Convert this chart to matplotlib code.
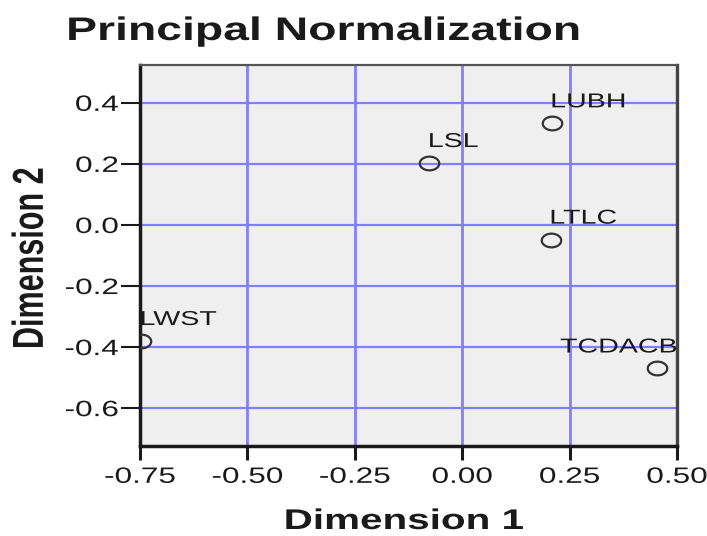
import matplotlib
matplotlib.use("Agg")
import matplotlib.pyplot as plt
from matplotlib.path import Path
from matplotlib.markers import MarkerStyle
from matplotlib.patheffects import AbstractPathEffect
from matplotlib.transforms import Affine2D, offset_copy, blended_transform_factory
import numpy as np

# ---- data -------------------------------------------------------------
labels = ["LUBH", "LSL", "LTLC", "LWST", "TCDACB"]
dim1 = [0.208, -0.077, 0.206, -0.748, 0.453]
dim2 = [0.333, 0.203, -0.048, -0.380, -0.470]

x_ticks = [-0.75, -0.50, -0.25, 0.00, 0.25, 0.50]
x_tick_labels = ["-0.75", "-0.50", "-0.25", "0.00", "0.25", "0.50"]
y_ticks = [0.4, 0.2, 0.0, -0.2, -0.4, -0.6]
y_tick_labels = ["0.4", "0.2", "0.0", "-0.2", "-0.4", "-0.6"]

title = "Principal Normalization"
x_title = "Dimension 1"
y_title = "Dimension 2"

# labels that would run past the right frame are pinned to it
pinned_right = {"TCDACB"}

# ---- style ------------------------------------------------------------
SX = 1.42            # horizontal widening of all glyphs and markers
FONT = "Liberation Sans"
INK = "#1a1a1a"
GRID = "#8080ff"
FACE = "#efefef"


class HStretch(AbstractPathEffect):
    """Widen a text path horizontally about its left/centre/right ink edge."""

    def __init__(self, sx, pivot="center"):
        super().__init__()
        self.sx = sx
        self.pivot = pivot

    def draw_path(self, renderer, gc, tpath, affine, rgbFace=None):
        ext = tpath.get_extents(affine)
        if self.pivot == "left":
            px = ext.x0
        elif self.pivot == "right":
            px = ext.x1
        else:
            px = 0.5 * (ext.x0 + ext.x1)
        widen = Affine2D().translate(-px, 0).scale(self.sx, 1).translate(px, 0)
        renderer.draw_path(gc, tpath, affine + widen, rgbFace)


plt.rcParams["font.family"] = [FONT, "DejaVu Sans"]

fig = plt.figure(figsize=(7.07, 5.36), dpi=100)
ax = fig.add_axes([140 / 707, 90 / 536, 537 / 707, 381 / 536])
ax.set_facecolor(FACE)

# elliptical hollow marker (widened circle)
t = np.linspace(0, 2 * np.pi, 73)
ellipse = Path(np.column_stack([SX * np.cos(t), np.sin(t)]), closed=True)
ax.plot(dim1, dim2, linestyle="none", marker=MarkerStyle(ellipse),
        markersize=14, markerfacecolor="none", markeredgecolor="#333333",
        markeredgewidth=1.6, zorder=3)

ax.set_xlim(-0.75, 0.50)
ax.set_ylim(-0.724, 0.524)
ax.set_xticks(x_ticks, x_tick_labels)
ax.set_yticks(y_ticks, y_tick_labels)

ax.xaxis.grid(True, color=GRID, linewidth=2.0)
ax.yaxis.grid(True, color=GRID, linewidth=1.6)
ax.set_axisbelow(True)

ax.tick_params(axis="x", direction="out", length=10, width=2.2, pad=5.0,
               color=INK, labelsize=16, labelcolor=INK)
ax.tick_params(axis="y", direction="out", length=13.5, width=1.5, pad=2.0,
               color=INK, labelsize=16, labelcolor=INK)

for lab in ax.get_xticklabels():
    lab.set_path_effects([HStretch(SX, "center")])
for lab in ax.get_yticklabels():
    lab.set_path_effects([HStretch(SX, "right")])

ax.spines["left"].set(color=INK, linewidth=2.5)
ax.spines["bottom"].set(color=INK, linewidth=2.5)
ax.spines["top"].set(color="#555555", linewidth=1.6)
ax.spines["right"].set(color="#444444", linewidth=2.4)

# point labels
for name, x, y in zip(labels, dim1, dim2):
    if name in pinned_right:
        tr = offset_copy(blended_transform_factory(ax.transAxes, ax.transData),
                         fig=fig, x=0, y=11.5, units="points")
        ax.text(1.0, y, name, transform=tr, ha="right", va="baseline",
                fontsize=14.5, color=INK, clip_on=False,
                path_effects=[HStretch(SX, "right")])
    else:
        tr = offset_copy(ax.transData, fig=fig, x=-0.5, y=11.5, units="points")
        ax.text(x, y, name, transform=tr, ha="left", va="baseline",
                fontsize=14.5, color=INK, clip_on=False,
                path_effects=[HStretch(SX, "left")])

# axis titles
ax.set_xlabel(x_title, fontsize=20.5, fontweight="bold", color=INK,
              path_effects=[HStretch(SX, "center")])
ax.xaxis.set_label_coords((404 - 140) / 537, (446 - 529) / 381)
ax.xaxis.label.set_va("baseline")

ax.set_ylabel(y_title, fontsize=22, fontweight="bold", color=INK,
              path_effects=[HStretch(SX, "right")])
ax.yaxis.set_label_coords((43 - 140) / 537, (446 - 258.5) / 381)
ax.yaxis.label.set_va("baseline")

# chart title
fig.text(67 / 707, 1 - 40 / 536, title, ha="left", va="baseline",
         fontsize=23.5, fontweight="bold", color=INK,
         path_effects=[HStretch(SX, "left")])

fig.savefig("out.png", dpi=100, facecolor="white")
